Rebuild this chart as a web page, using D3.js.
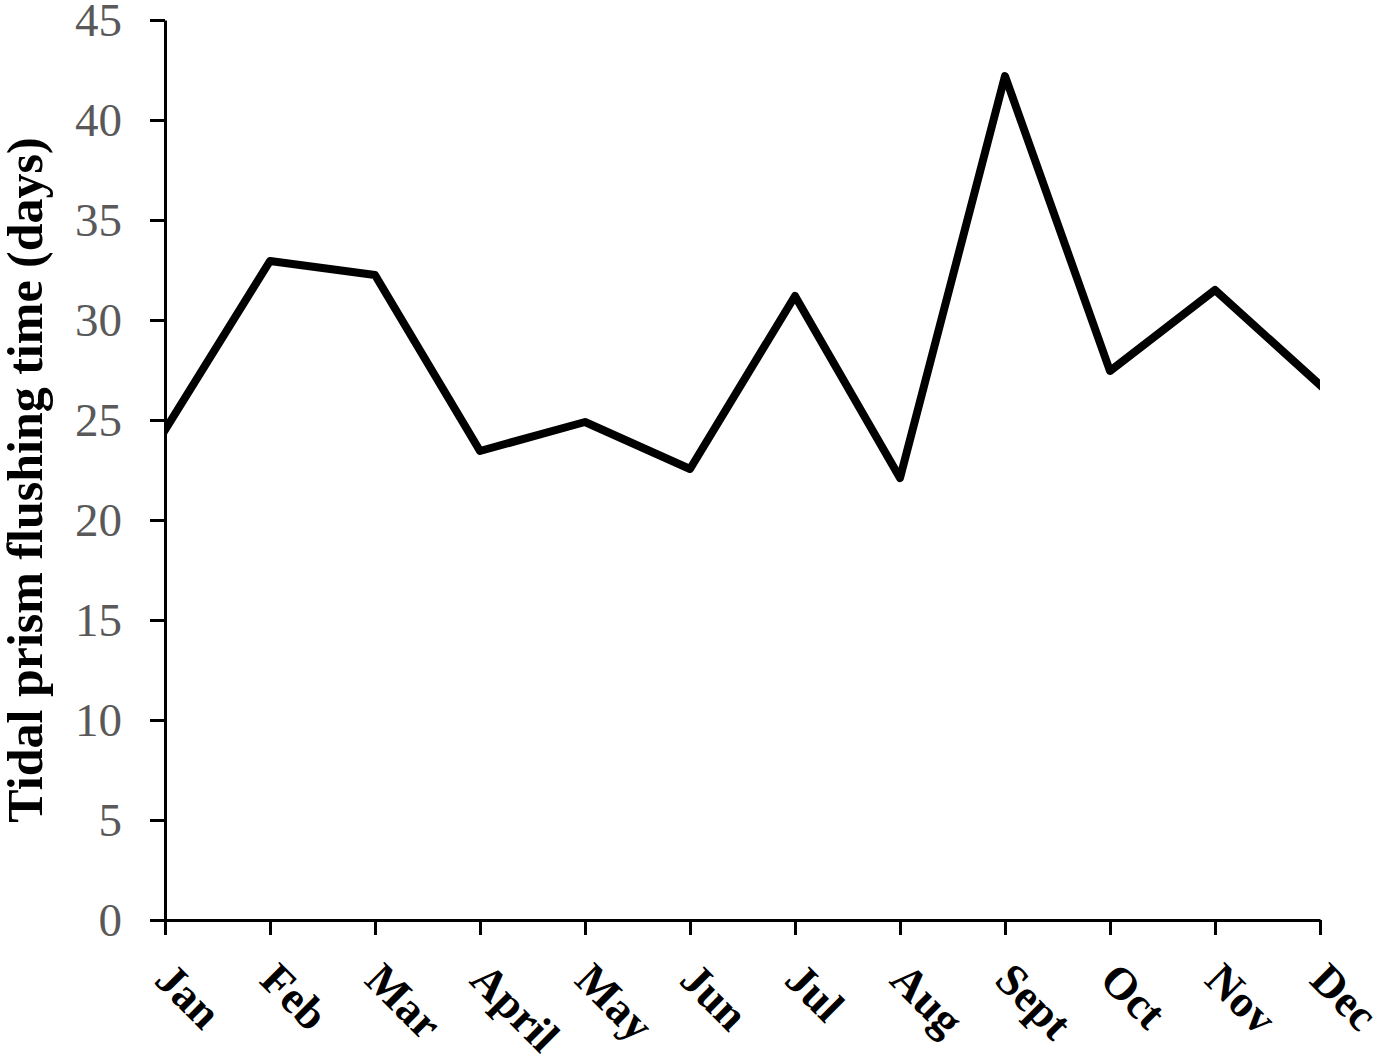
<!DOCTYPE html>
<html>
<head>
<meta charset="utf-8">
<script src="https://cdn.jsdelivr.net/npm/d3@7"></script>
<style>
  body { margin: 0; background: #fff; }
  svg { display: block; }
  .y-axis text { font-family: "Liberation Serif", serif; font-size: 47px; fill: #595959; }
  .x-label { font-family: "Liberation Serif", serif; font-size: 45px; font-weight: bold; fill: #000; }
  .title { font-family: "Liberation Serif", serif; font-size: 50px; font-weight: bold; fill: #000; }
</style>
</head>
<body>
<svg width="1379" height="1059"></svg>
<script>
const months = ["Jan", "Feb", "Mar", "April", "May", "Jun", "Jul", "Aug", "Sept", "Oct", "Nov", "Dec"];
const flushingDays = [24.5, 32.95, 32.25, 23.45, 24.9, 22.55, 31.2, 22.1, 42.2, 27.45, 31.5, 26.75];
const yTicks = [0, 5, 10, 15, 20, 25, 30, 35, 40, 45];

const svg = d3.select("svg");

const x = d3.scalePoint().domain(months).range([165, 1320]);
const y = d3.scaleLinear().domain([0, 45]).range([920, 20]);

// y axis
const yAxis = svg
  .append("g")
  .attr("class", "y-axis")
  .attr("transform", "translate(165, 0)")
  .call(d3.axisLeft(y).tickValues(yTicks).tickSize(15).tickSizeOuter(0).tickPadding(28));

yAxis.selectAll("path, line").attr("stroke", "#000").attr("stroke-width", 3);
yAxis.selectAll("text").attr("dy", "0.34em");

// x axis
const xAxis = svg
  .append("g")
  .attr("class", "x-axis")
  .attr("transform", "translate(0, 920)")
  .call(d3.axisBottom(x).tickSize(15).tickSizeOuter(0).tickFormat(""));

xAxis.selectAll("path, line").attr("stroke", "#000").attr("stroke-width", 3);

svg
  .selectAll("text.x-label")
  .data(months)
  .enter()
  .append("text")
  .attr("class", "x-label")
  .attr("transform", (d) => `translate(${x(d) - 12}, 982) rotate(45)`)
  .text((d) => d);

// y title
svg
  .append("text")
  .attr("class", "title")
  .attr("transform", "translate(42, 480) rotate(-90)")
  .attr("text-anchor", "middle")
  .text("Tidal prism flushing time (days)");

// data line
svg
  .append("clipPath")
  .attr("id", "plot")
  .append("rect")
  .attr("x", 165)
  .attr("y", 0)
  .attr("width", 1320 - 165)
  .attr("height", 920);

const lineGenerator = d3
  .line()
  .x((d, i) => x(months[i]))
  .y((d) => y(d));

svg
  .append("path")
  .datum(flushingDays)
  .attr("clip-path", "url(#plot)")
  .attr("d", lineGenerator)
  .attr("fill", "none")
  .attr("stroke", "#000")
  .attr("stroke-width", 8)
  .attr("stroke-linejoin", "round")
  .attr("stroke-linecap", "square");
</script>
</body>
</html>
